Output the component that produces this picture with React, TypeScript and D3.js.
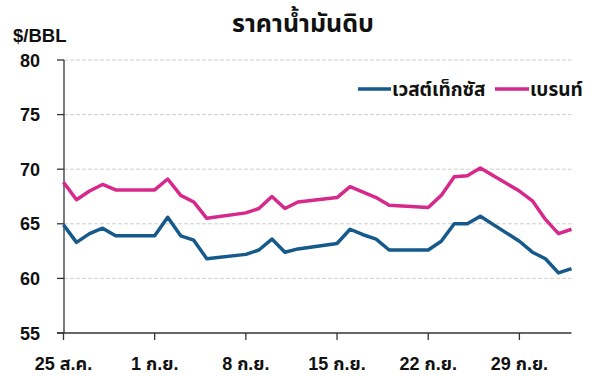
import React from "react";
import * as d3 from "d3";

const dates: string[] = [
  "2025-08-25", "2025-08-26", "2025-08-27", "2025-08-28", "2025-08-29",
  "2025-09-01", "2025-09-02", "2025-09-03", "2025-09-04", "2025-09-05",
  "2025-09-08", "2025-09-09", "2025-09-10", "2025-09-11", "2025-09-12",
  "2025-09-15", "2025-09-16", "2025-09-17", "2025-09-18", "2025-09-19",
  "2025-09-22", "2025-09-23", "2025-09-24", "2025-09-25", "2025-09-26",
  "2025-09-29", "2025-09-30", "2025-10-01", "2025-10-02", "2025-10-03",
];

const wti: number[] = [
  64.9, 63.3, 64.1, 64.6, 63.9,
  63.9, 65.6, 63.9, 63.5, 61.8,
  62.2, 62.6, 63.6, 62.4, 62.7,
  63.2, 64.5, 64.0, 63.6, 62.6,
  62.6, 63.4, 65.0, 65.0, 65.7,
  63.4, 62.4, 61.8, 60.5, 60.9,
];

const brent: number[] = [
  68.8, 67.2, 68.0, 68.6, 68.1,
  68.1, 69.1, 67.6, 67.0, 65.5,
  66.0, 66.4, 67.5, 66.4, 67.0,
  67.4, 68.4, 67.9, 67.4, 66.7,
  66.5, 67.6, 69.3, 69.4, 70.1,
  68.0, 67.1, 65.4, 64.1, 64.5,
];

const seriesNames: string[] = ["เวสต์เท็กซัส", "เบรนท์"];
const seriesColors: string[] = ["#16598b", "#d6298b"];

const xTickDates: string[] = ["2025-08-25", "2025-09-01", "2025-09-08", "2025-09-15", "2025-09-22", "2025-09-29"];
const xTickLabels: string[] = ["25 ส.ค.", "1 ก.ย.", "8 ก.ย.", "15 ก.ย.", "22 ก.ย.", "29 ก.ย."];
const yTicks: number[] = [55, 60, 65, 70, 75, 80];

const title = "ราคาน้ำมันดิบ";
const unit = "$/BBL";

const FONT = "'Liberation Sans', Arial, 'Noto Sans Thai', 'Noto Sans', 'DejaVu Sans', sans-serif";

export default function App() {
  const width = 600;
  const height = 376;
  const parse = d3.utcParse("%Y-%m-%d");
  const xDates = dates.map((d) => parse(d) as Date);
  const x = d3
    .scaleUtc()
    .domain([xDates[0], xDates[xDates.length - 1]])
    .range([63.5, 571.5]);
  const y = d3.scaleLinear().domain([55, 80]).range([333, 60]);

  const line = d3
    .line<[Date, number]>()
    .x((d) => x(d[0]))
    .y((d) => y(d[1]));

  const series = [wti, brent].map((vals) => vals.map((v, i) => [xDates[i], v] as [Date, number]));

  return (
    <svg
      width={width}
      height={height}
      style={{ position: "absolute", left: 0, top: 0, background: "#fff" }}
      fontFamily={FONT}
    >
      <text x={303} y={32} textAnchor="middle" fontSize={25} fontWeight={700} fill="#111">
        {title}
      </text>
      <text x={13} y={42} fontSize={18.5} fontWeight={700} fill="#111">
        {unit}
      </text>

      {/* gridlines */}
      {yTicks
        .filter((t) => t !== 55)
        .map((t) => (
          <line
            key={"g" + t}
            x1={64}
            x2={571.5}
            y1={y(t)}
            y2={y(t)}
            stroke="#cfcfcf"
            strokeWidth={1}
            strokeDasharray="4,2"
          />
        ))}

      {/* y axis */}
      <line x1={64} x2={64} y1={y(80)} y2={y(55)} stroke="#333" strokeWidth={1.3} />
      {yTicks.map((t) => (
        <g key={"y" + t}>
          <line x1={57} x2={64} y1={y(t)} y2={y(t)} stroke="#333" strokeWidth={1.3} />
          <text x={40} y={y(t) + 6.5} textAnchor="end" fontSize={18} fontWeight={700} fill="#111">
            {t}
          </text>
        </g>
      ))}

      {/* x axis */}
      <line x1={57} x2={571.5} y1={y(55)} y2={y(55)} stroke="#333" strokeWidth={1.3} />
      {xTickDates.map((d, i) => {
        const xx = x(parse(d) as Date);
        return (
          <g key={"x" + d}>
            <line x1={xx} x2={xx} y1={y(55)} y2={y(55) + 7} stroke="#333" strokeWidth={1.3} />
            <text x={xx} y={370} textAnchor="middle" fontSize={18} fontWeight={700} fill="#111">
              {xTickLabels[i]}
            </text>
          </g>
        );
      })}

      {/* lines */}
      {series.map((s, i) => (
        <path
          key={"s" + i}
          d={line(s) || ""}
          fill="none"
          stroke={seriesColors[i]}
          strokeWidth={3.5}
          strokeLinejoin="round"
        />
      ))}

      {/* legend */}
      <g>
        <line x1={358} x2={391} y1={89} y2={89} stroke={seriesColors[0]} strokeWidth={3.5} />
        <text x={392} y={96} fontSize={19} fontWeight={700} fill="#111">
          {seriesNames[0]}
        </text>
        <line x1={495} x2={529} y1={89} y2={89} stroke={seriesColors[1]} strokeWidth={3.5} />
        <text x={530} y={96} fontSize={19} fontWeight={700} fill="#111">
          {seriesNames[1]}
        </text>
      </g>
    </svg>
  );
}
